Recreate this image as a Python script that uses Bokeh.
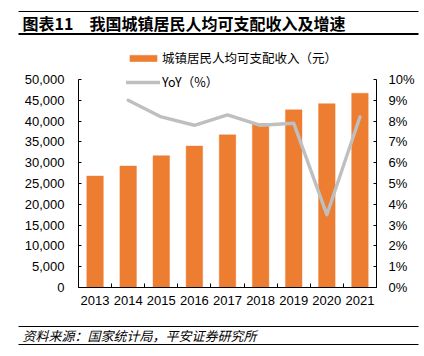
from bokeh.plotting import figure
from bokeh.layouts import column, row
from bokeh.models import (Range1d, LinearAxis, FixedTicker, NumeralTickFormatter,
                          PrintfTickFormatter, Legend, LegendItem, Label, BoxAnnotation)
from bokeh.embed import file_html
from bokeh.resources import INLINE

years = ["2013", "2014", "2015", "2016", "2017", "2018", "2019", "2020", "2021"]
income = [26800, 29200, 31700, 34000, 36700, 39400, 42700, 44200, 46700]
yoy_years = ["2014", "2015", "2016", "2017", "2018", "2019", "2020", "2021"]
yoy = [9.0, 8.2, 7.8, 8.3, 7.8, 7.9, 3.5, 8.2]
left_ticks = list(range(0, 50001, 5000))
right_ticks = list(range(0, 11))

title_text = "图表11　我国城镇居民人均可支配收入及增速"
source_text = "资料来源：国家统计局，平安证券研究所"
bar_label = "城镇居民人均可支配收入（元）"
line_label = "YoY（%）"

ORANGE = "#ED7D31"
GREY = "#BFBFBF"
FONT = "Liberation Sans"
CJK = "Noto Sans CJK SC"

W = 424
HEAD_H = 40
FOOT_H = 46
MAIN_H = 356 - HEAD_H - FOOT_H  # 270
FRAME_TOP = HEAD_H
FRAME_BOTTOM = 287
ZERO_TO_MAX_PX = 208
frame_h = FRAME_BOTTOM - FRAME_TOP
left_top = 50000 * frame_h / ZERO_TO_MAX_PX
right_top = 10 * frame_h / ZERO_TO_MAX_PX


def deco_fig(h):
    f = figure(width=W, height=h, output_backend="svg", toolbar_location=None,
               x_range=Range1d(0, W), y_range=Range1d(0, h),
               x_axis_type=None, y_axis_type=None,
               min_border=0, min_border_left=0, min_border_right=0,
               min_border_top=0, min_border_bottom=0)
    f.xgrid.visible = False
    f.ygrid.visible = False
    f.outline_line_color = None
    return f


def hline(f, h, y0, ytop, thick):
    f.add_layout(BoxAnnotation(left=18, right=418,
                               top=h - (ytop - y0), bottom=h - (ytop + thick - y0),
                               fill_color="black", fill_alpha=1, line_color=None))


# ---- header ----
head = deco_fig(HEAD_H)
head.add_layout(Label(x=22, y=HEAD_H - 22, text=title_text, text_font=CJK, text_font_size="16px",
                      text_font_style="bold", text_baseline="middle", text_color="black"))
hline(head, HEAD_H, 0, 10.5, 1)
hline(head, HEAD_H, 0, 32.5, 2)

# ---- main chart ----
p = figure(width=W, height=MAIN_H, output_backend="svg", toolbar_location=None,
           x_range=Range1d(0, len(years)), y_range=Range1d(0, left_top),
           min_border_left=78, min_border_right=48, min_border_top=0,
           min_border_bottom=MAIN_H - (FRAME_BOTTOM - FRAME_TOP))
p.extra_y_ranges = {"pct": Range1d(0, right_top)}
p.xgrid.visible = False
p.ygrid.visible = False
p.outline_line_color = None

xc = [years.index(y) + 0.5 for y in years]
xl = [years.index(y) + 0.5 for y in yoy_years]

bars = p.vbar(x=xc, top=income, width=0.5, fill_color=ORANGE, line_color=ORANGE, line_alpha=0.4)
ln = p.line(x=xl, y=yoy, y_range_name="pct", line_color=GREY, line_width=3.4,
            line_join="round", line_cap="round")

xa = p.xaxis[0]
xa.ticker = FixedTicker(ticks=xc, minor_ticks=list(range(0, len(years) + 1)))
xa.major_label_overrides = {x: y for x, y in zip(xc, years)}
xa.major_tick_in = 0
xa.major_tick_out = 0
xa.minor_tick_in = 4
xa.minor_tick_out = 0
xa.minor_tick_line_color = "black"
xa.axis_line_color = "black"
xa.major_label_text_font = FONT
xa.major_label_text_font_size = "13px"
xa.major_label_text_color = "black"
xa.major_label_standoff = 8

ya = p.yaxis[0]
ya.ticker = FixedTicker(ticks=left_ticks)
ya.formatter = NumeralTickFormatter(format="0,0")
ya.bounds = (0, 50000)
ya.major_tick_in = 3
ya.major_tick_out = 0
ya.minor_tick_line_color = None
ya.axis_line_color = "black"
ya.major_label_text_font = FONT
ya.major_label_text_font_size = "13px"
ya.major_label_text_color = "black"
ya.major_label_standoff = 14

ra = LinearAxis(y_range_name="pct", ticker=FixedTicker(ticks=right_ticks),
                formatter=PrintfTickFormatter(format="%d%%"), bounds=(0, 10))
ra.major_tick_in = 3
ra.major_tick_out = 0
ra.minor_tick_line_color = None
ra.axis_line_color = "black"
ra.major_label_text_font = FONT
ra.major_label_text_font_size = "13px"
ra.major_label_text_color = "black"
ra.major_label_standoff = 12
p.add_layout(ra, "right")

legend = Legend(items=[LegendItem(label=bar_label, renderers=[bars]),
                       LegendItem(label=line_label, renderers=[ln])],
                location=(48, FRAME_BOTTOM - 91), orientation="vertical",
                glyph_width=34, glyph_height=8, label_standoff=2,
                label_height=14, spacing=5, padding=0, margin=0,
                border_line_color=None, background_fill_alpha=0,
                label_text_font=CJK, label_text_font_size="12.5px", label_text_color="black")
p.add_layout(legend, "center")

# ---- footer ----
Y0 = HEAD_H + MAIN_H
foot = deco_fig(FOOT_H)
hline(foot, FOOT_H, Y0, 325.5, 1)
hline(foot, FOOT_H, Y0, 343.5, 1)
foot.add_layout(Label(x=22, y=FOOT_H - (335 - Y0), text=source_text, text_font=CJK,
                      text_font_size="13px", text_font_style="italic",
                      text_baseline="middle", text_color="black"))

layout = column(row(head), p, row(foot), spacing=0)
open("out.html", "w").write(file_html(layout, INLINE))
